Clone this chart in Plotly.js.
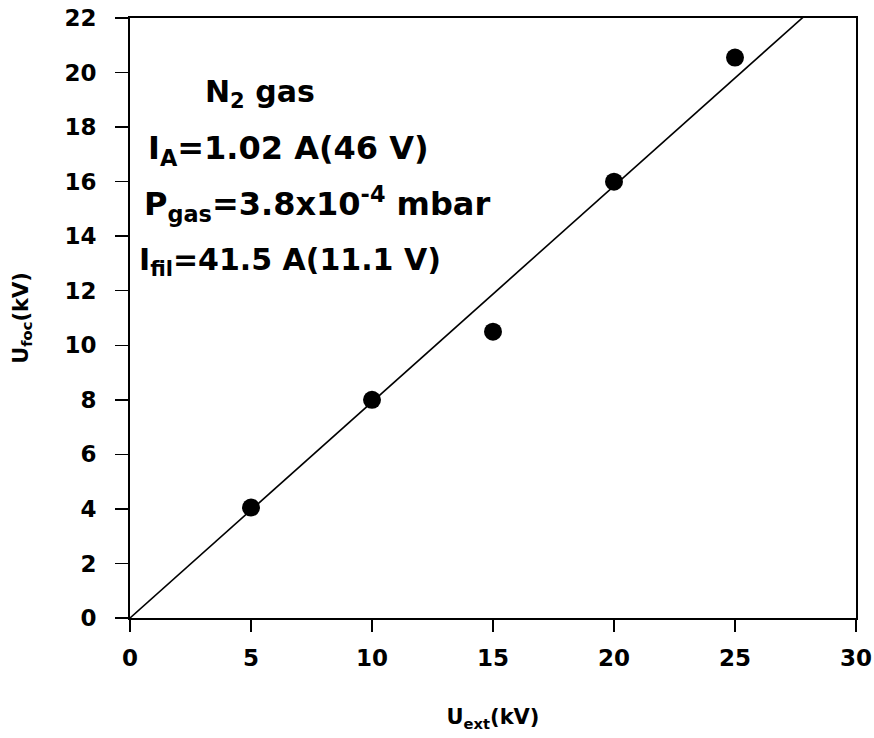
<!DOCTYPE html>
<html>
<head>
<meta charset="utf-8">
<script src="https://cdn.plot.ly/plotly-3.0.1.min.js"></script>
<style>
  html, body { margin: 0; padding: 0; background: #fff; }
  #chart { width: 874px; height: 738px; }
</style>
</head>
<body>
<div id="chart"></div>
<script>
// Extraction voltage vs. focusing voltage, N2 gas
const uExt = [5, 10, 15, 20, 25];
const uFoc = [4.05, 8.0, 10.5, 16.0, 20.55];

// Linear fit through the origin
const fitSlope = 0.792;
const fitX = [0, 30];
const fitY = fitX.map(x => x * fitSlope);

const xTicks = [0, 5, 10, 15, 20, 25, 30];
const yTicks = [0, 2, 4, 6, 8, 10, 12, 14, 16, 18, 20, 22];

const FONT = '"DejaVu Sans", Arial, sans-serif';

const traces = [
  {
    x: fitX, y: fitY, mode: 'lines', type: 'scatter',
    line: { color: '#000', width: 1.6 },
    hoverinfo: 'skip', showlegend: false
  },
  {
    x: uExt, y: uFoc, mode: 'markers', type: 'scatter',
    marker: { color: '#000', size: 18, symbol: 'circle' },
    showlegend: false
  }
];

const labelFont = { family: FONT, size: 32, color: '#000', weight: 'bold' };
const tickFont = { family: FONT, size: 23, color: '#000', weight: 'bold' };

const layout = {
  width: 874, height: 738,
  margin: { l: 130, r: 18, t: 18, b: 120 },
  paper_bgcolor: '#fff', plot_bgcolor: '#fff',
  showlegend: false,
  font: { family: FONT, color: '#000' },
  xaxis: {
    range: [0, 30], tickvals: xTicks, ticktext: xTicks.map(String),
    ticks: 'outside', ticklen: 12, tickwidth: 1.5, tickcolor: '#000',
    showline: true, linecolor: '#000', linewidth: 2, mirror: true,
    showgrid: false, zeroline: false,
    tickfont: tickFont,
    ticklabelstandoff: 6,
    title: { text: 'U<sub>ext</sub>(kV)', font: { family: FONT, size: 21, weight: 'bold' }, standoff: 40 }
  },
  yaxis: {
    range: [0, 22], tickvals: yTicks, ticktext: yTicks.map(String),
    ticks: 'outside', ticklen: 13, tickwidth: 1.5, tickcolor: '#000',
    showline: true, linecolor: '#000', linewidth: 2, mirror: true,
    showgrid: false, zeroline: false,
    tickfont: tickFont,
    ticklabelstandoff: 14,
    title: { text: 'U<sub>foc</sub>(kV)', font: { family: FONT, size: 21, weight: 'bold' }, standoff: 30 }
  },
  annotations: [
    { text: 'N<sub>2</sub> gas', xref: 'paper', yref: 'paper', x: 0.101, y: 0.875,
      xanchor: 'left', yanchor: 'middle', showarrow: false,
      font: { family: FONT, size: 30, color: '#000', weight: 'bold' } },
    { text: 'I<sub>A</sub>=1.02 A(46 V)', xref: 'paper', yref: 'paper', x: 0.022, y: 0.78,
      xanchor: 'left', yanchor: 'middle', showarrow: false, font: labelFont },
    { text: 'P<sub>gas</sub>=3.8x10<sup>-4</sup> mbar', xref: 'paper', yref: 'paper', x: 0.016, y: 0.69,
      xanchor: 'left', yanchor: 'middle', showarrow: false, font: labelFont },
    { text: 'I<sub>fil</sub>=41.5 A(11.1 V)', xref: 'paper', yref: 'paper', x: 0.009, y: 0.594,
      xanchor: 'left', yanchor: 'middle', showarrow: false,
      font: { family: FONT, size: 30, color: '#000', weight: 'bold' } }
  ]
};

Plotly.newPlot('chart', traces, layout, { displayModeBar: false, staticPlot: true });
</script>
</body>
</html>
